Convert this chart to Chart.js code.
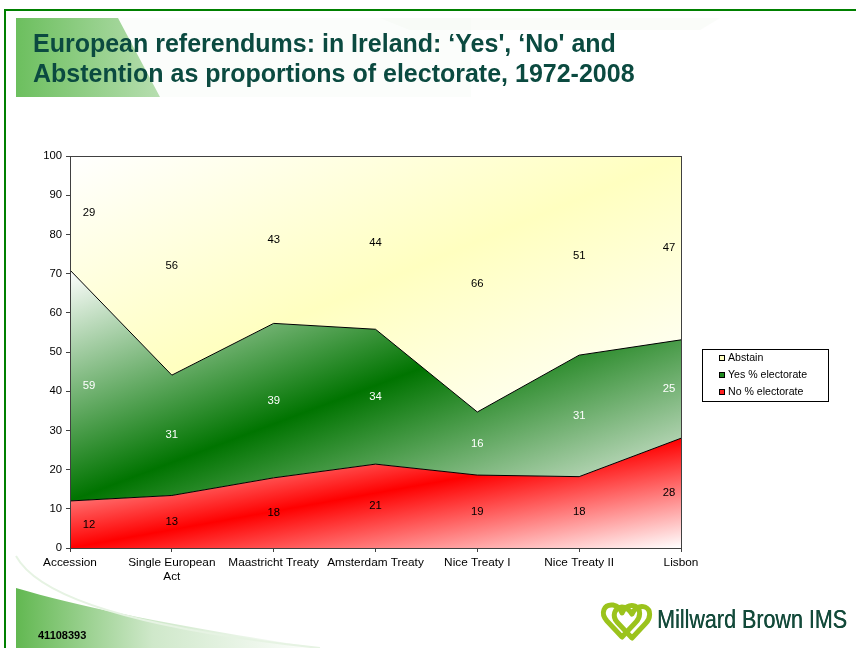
<!DOCTYPE html>
<html>
<head>
<meta charset="utf-8">
<script src="https://cdn.jsdelivr.net/npm/chart.js@4"></script>
<style>
  html,body{margin:0;padding:0;background:#fff;}
  #wrap{position:relative;width:856px;height:648px;overflow:hidden;background:#fff;font-family:"Liberation Sans",Arial,sans-serif;}
  #deco{position:absolute;left:0;top:0;}
  #title{position:absolute;left:33px;top:28px;font-weight:bold;font-size:25px;line-height:30px;color:#0b4a40;white-space:nowrap;}
  #code{position:absolute;left:38px;top:629px;font-weight:bold;font-size:11px;color:#000;}
  #brand{position:absolute;left:657px;top:605px;font-size:25px;color:#134a3a;white-space:nowrap;transform-origin:0 0;transform:scaleX(0.86);text-shadow:0.4px 0 0 #134a3a;}
  #c{position:absolute;left:0;top:0;}
</style>
</head>
<body>
<div id="wrap">
<svg id="deco" width="856" height="648">
  <defs>
    <linearGradient id="tg" x1="0" y1="0" x2="1" y2="0">
      <stop offset="0" stop-color="#6cbf5e"/>
      <stop offset="0.45" stop-color="#d6ebd2"/>
      <stop offset="1" stop-color="#f4f9f3"/>
    </linearGradient>
    <linearGradient id="bg" x1="0" y1="0" x2="1" y2="0">
      <stop offset="0" stop-color="#62b851"/>
      <stop offset="0.45" stop-color="#cfe8ca"/>
      <stop offset="1" stop-color="#ffffff"/>
    </linearGradient>
  </defs>
  <rect x="16" y="18" width="455" height="79" fill="url(#tg)"/>
  <polygon points="118,18 471,18 471,97 160,97" fill="#fbfdfb"/>
  <polygon points="380,18 720,18 700,30 410,30" fill="#f5f9f4" opacity="0.5"/>
  <path d="M16,588 C90,610 200,630 320,648 L16,648 Z" fill="url(#bg)"/>
  <path d="M16,556 C40,600 150,630 320,648" fill="none" stroke="#e6f3e3" stroke-width="2"/>
  <line x1="4" y1="10" x2="856" y2="10" stroke="#008000" stroke-width="2"/>
  <line x1="5" y1="9" x2="5" y2="648" stroke="#008000" stroke-width="2"/>
  <g fill="none" stroke="#9bc31c" stroke-width="5" stroke-linejoin="round">
    <path d="M622,637 L607,621 C600,613 604,604 613,605 C618,606 621,610 622,613 C624,608 629,604 635,606 C642,609 640,618 636,622 Z"/>
    <path d="M632,638 L617,622 C612,616 614,608 622,607 C627,607 630,611 632,614 C634,609 639,605 645,607 C652,610 650,619 646,623 Z"/>
  </g>
</svg>
<canvas id="c" width="856" height="648"></canvas>
<div id="title">European referendums: in Ireland: ‘Yes', ‘No' and<br>Abstention as proportions of electorate, 1972-2008</div>
<div id="code">41108393</div>
<div id="brand">Millward Brown IMS</div>
</div>
<script>
const categories = ["Accession", ["Single European", "Act"], "Maastricht Treaty", "Amsterdam Treaty", "Nice Treaty I", "Nice Treaty II", "Lisbon"];
const noValues      = [12.0, 13.4, 17.9, 21.4, 18.6, 18.2, 28.0];
const yesValues     = [58.9, 30.7, 39.4, 34.4, 16.1, 31.0, 25.1];
const abstainValues = [29.1, 55.9, 42.7, 44.2, 65.5, 50.8, 46.9];
const seriesNames = ["No % electorate", "Yes % electorate", "Abstain"];
const yTicks = [0, 10, 20, 30, 40, 50, 60, 70, 80, 90, 100];

const FONT = '"Liberation Sans", Arial, sans-serif';
const series = [noValues, yesValues, abstainValues];

function stackBase(k, j) { let s = 0; for (let i = 0; i < k; i++) s += series[i][j]; return s; }

function diagGradient(chart, k, midColor, startColor, endColor) {
  const xs = chart.scales.x, ys = chart.scales.y, ca = chart.chartArea;
  if (!ca || !xs || !ys) return midColor;
  let maxTop = 0, minBot = 100;
  for (let j = 0; j < series[k].length; j++) {
    const b = stackBase(k, j);
    maxTop = Math.max(maxTop, Math.min(100, b + series[k][j]));
    minBot = Math.min(minBot, b);
  }
  const x0 = ca.left, x1 = ca.right;
  const y0 = ys.getPixelForValue(maxTop), y1 = ys.getPixelForValue(minBot);
  const w = x1 - x0, h = y1 - y0;
  const cx = (x0 + x1) / 2, cy = (y0 + y1) / 2;
  const f = (w * h) / (h * h + w * w);
  const g = chart.ctx.createLinearGradient(cx - h * f, cy - w * f, cx + h * f, cy + w * f);
  g.addColorStop(0, startColor);
  g.addColorStop(0.5, midColor);
  g.addColorStop(1, endColor);
  return g;
}

const labelPlugin = {
  id: 'segLabels',
  afterDatasetsDraw(chart) {
    const ctx = chart.ctx, xs = chart.scales.x, ys = chart.scales.y, ca = chart.chartArea;
    ctx.save();
    ctx.strokeStyle = '#404040';
    ctx.lineWidth = 1;
    ctx.strokeRect(Math.round(ca.left) + 0.5, Math.round(ca.top) + 0.5, Math.round(ca.right - ca.left), Math.round(ca.bottom - ca.top));
    ctx.font = '11.3px ' + FONT;
    ctx.textAlign = 'center';
    ctx.textBaseline = 'middle';
    const colors = ['#000000', '#ffffff', '#000000'];
    for (let k = 0; k < series.length; k++) {
      for (let j = 0; j < series[k].length; j++) {
        const b = stackBase(k, j);
        const t = Math.min(100, b + series[k][j]);
        let x = xs.getPixelForValue(j);
        if (j === 0) x += 19;
        if (j === series[k].length - 1) x -= 12;
        const y = ys.getPixelForValue((b + t) / 2);
        ctx.fillStyle = colors[k];
        ctx.fillText(String(Math.round(series[k][j])), x, y);
      }
    }
    // legend
    const lx = 702, ly = 349, lw = 126, lh = 52;
    ctx.fillStyle = '#ffffff';
    ctx.fillRect(lx, ly, lw, lh);
    ctx.strokeStyle = '#000000';
    ctx.strokeRect(lx + 0.5, ly + 0.5, lw, lh);
    const items = [
      { name: seriesNames[2], fill: '#ffffc0' },
      { name: seriesNames[1], fill: '#1f8a1f' },
      { name: seriesNames[0], fill: '#ff2020' }
    ];
    ctx.font = '10.6px ' + FONT;
    ctx.textAlign = 'left';
    items.forEach((it, i) => {
      const cy = 358 + i * 17;
      ctx.fillStyle = it.fill;
      ctx.fillRect(719, cy - 3, 6, 6);
      ctx.strokeStyle = '#000';
      ctx.strokeRect(719.5, cy - 2.5, 5, 5);
      ctx.fillStyle = '#000';
      ctx.fillText(it.name, 728, cy + 0.5);
    });
    ctx.restore();
  }
};

new Chart(document.getElementById('c'), {
  type: 'line',
  data: {
    labels: categories,
    datasets: [
      {
        label: seriesNames[0], data: noValues, fill: 'origin',
        borderColor: '#000', borderWidth: 1, pointRadius: 0, tension: 0,
        backgroundColor: (c) => diagGradient(c.chart, 0, '#ff0000', '#ffffff', '#ffffff')
      },
      {
        label: seriesNames[1], data: yesValues, fill: '-1',
        borderColor: '#000', borderWidth: 1, pointRadius: 0, tension: 0,
        backgroundColor: (c) => diagGradient(c.chart, 1, '#007400', '#ffffff', '#eef3ee')
      },
      {
        label: seriesNames[2], data: abstainValues, fill: '-1',
        borderColor: '#000', borderWidth: 1, pointRadius: 0, tension: 0,
        backgroundColor: (c) => diagGradient(c.chart, 2, '#ffffc0', '#ffffff', '#ffffff')
      }
    ]
  },
  options: {
    responsive: false,
    animation: false,
    devicePixelRatio: 1,
    layout: { padding: { top: 156, left: 0, right: 175, bottom: 0 } },
    plugins: { legend: { display: false }, tooltip: { enabled: false }, title: { display: false } },
    elements: { line: { borderJoinStyle: 'miter' } },
    scales: {
      x: {
        offset: false,
        grid: { display: true, drawOnChartArea: false, drawTicks: true, tickLength: 4, color: '#404040' },
        border: { display: true, color: '#404040', width: 1 },
        ticks: { font: { family: FONT, size: 11.8 }, color: '#000', padding: 4, maxRotation: 0, autoSkip: false },
        afterFit: (s) => { s.height = 100; }
      },
      y: {
        stacked: true,
        min: 0, max: 100,
        afterBuildTicks: (s) => { s.ticks = yTicks.map(v => ({ value: v })); },
        grid: { display: true, drawOnChartArea: false, drawTicks: true, tickLength: 4, color: '#404040' },
        border: { display: true, color: '#404040', width: 1 },
        ticks: { font: { family: FONT, size: 11.3 }, color: '#000', padding: 4 },
        afterFit: (s) => { s.width = 70; }
      }
    }
  },
  plugins: [labelPlugin]
});
</script>
</body>
</html>
